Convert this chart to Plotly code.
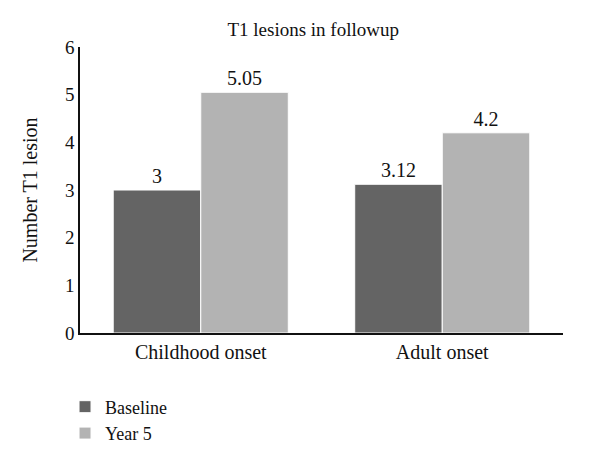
import plotly.graph_objects as go

categories = ["Childhood onset", "Adult onset"]
baseline = [3, 3.12]
year5 = [5.05, 4.2]
baseline_labels = ["3", "3.12"]
year5_labels = ["5.05", "4.2"]

font_family = "Liberation Serif, DejaVu Serif, serif"

fig = go.Figure()
fig.add_trace(go.Bar(
    name="Baseline", x=categories, y=baseline, text=baseline_labels,
    textposition="outside", marker=dict(color="#646464", line=dict(color="white", width=1)),
    textfont=dict(size=20, color="#111"), cliponaxis=False,
))
fig.add_trace(go.Bar(
    name="Year 5", x=categories, y=year5, text=year5_labels,
    textposition="outside", marker=dict(color="#b3b3b3", line=dict(color="white", width=1)),
    textfont=dict(size=20, color="#111"), cliponaxis=False,
))

fig.update_layout(
    width=600, height=465,
    margin=dict(l=80, r=37, t=47, b=132),
    paper_bgcolor="white", plot_bgcolor="white",
    font=dict(family=font_family, size=18, color="#111"),
    title=dict(text="T1 lesions in followup", x=0.522, xanchor="center",
               y=1 - 29 / 465, yanchor="middle", font=dict(size=19)),
    barmode="group", bargap=0.275, bargroupgap=0.0,
    showlegend=True,
    legend=dict(orientation="v", x=-0.031, xanchor="left", y=-0.194, yanchor="top",
                font=dict(size=18), tracegroupgap=0, itemwidth=30,
                bgcolor="rgba(0,0,0,0)"),
    xaxis=dict(showline=True, linecolor="#111", linewidth=1.5, ticks="",
               showgrid=False, tickfont=dict(size=20)),
    yaxis=dict(range=[0, 6], dtick=1, showline=True, linecolor="#111", linewidth=1.5,
               ticks="", showgrid=False, zeroline=False, tickfont=dict(size=19),
               title=dict(text="Number T1 lesion", font=dict(size=20), standoff=22)),
)

fig.write_html("out.html", config={"displayModeBar": False},
               post_script="document.body.style.margin='0';")
